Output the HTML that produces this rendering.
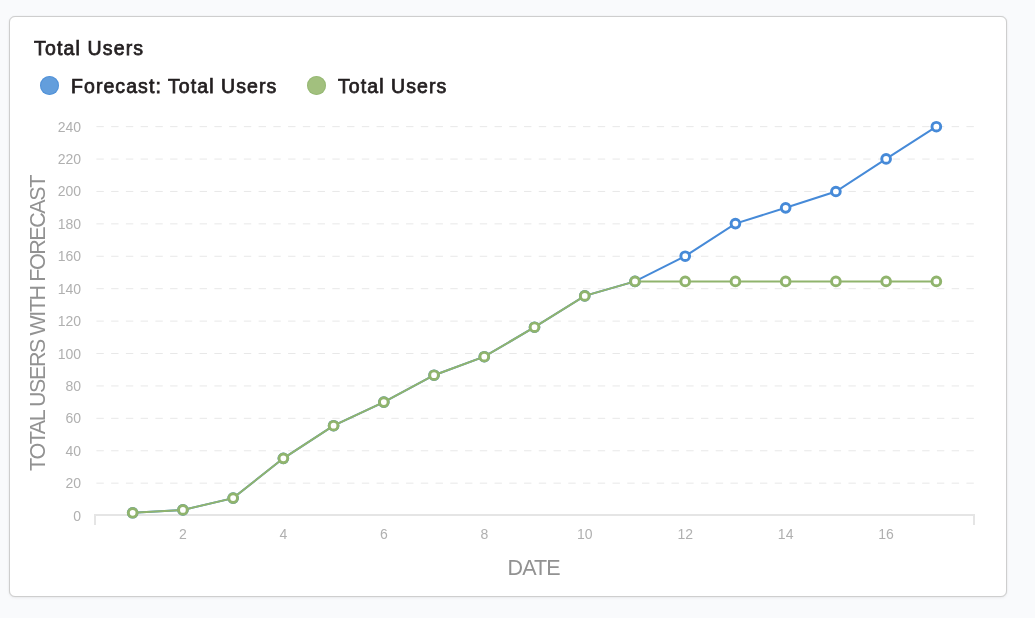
<!DOCTYPE html>
<html><head><meta charset="utf-8"><style>
html,body{margin:0;padding:0;}
body{width:1035px;height:618px;background:#f9fafc;position:relative;overflow:hidden;font-family:"Liberation Sans",sans-serif;}
.card{position:absolute;left:9px;top:16px;width:996px;height:579px;background:#fff;border:1px solid #cecece;border-radius:6px;box-shadow:0 0 1px rgba(0,0,0,0.12),0 1px 3px rgba(0,0,0,0.06);}
.title{position:absolute;left:34px;top:36.6px;font-size:19.5px;color:#231f20;letter-spacing:1.15px;-webkit-text-stroke:0.75px #231f20;white-space:nowrap;}
.leg{position:absolute;top:74.6px;font-size:19.5px;color:#231f20;letter-spacing:1.07px;-webkit-text-stroke:0.75px #231f20;white-space:nowrap;}
.dot{position:absolute;width:19px;height:19px;border-radius:50%;}
.d1{box-shadow:inset 0 0 0 1px rgba(65,135,214,0.55);}
.d2{box-shadow:inset 0 0 0 1px rgba(141,178,108,0.55);}
svg{position:absolute;left:0;top:0;will-change:transform;}
.title,.leg{will-change:transform;}
</style></head><body>
<div class="card"></div>
<div class="title">Total Users</div>
<div class="dot d1" style="left:40px;top:76px;background:#639edc"></div>
<div class="leg" style="left:71px">Forecast: Total Users</div>
<div class="dot d2" style="left:307px;top:76px;background:#a2c07e"></div>
<div class="leg" style="left:338px">Total Users</div>
<svg width="1035" height="618" viewBox="0 0 1035 618">
<g stroke="#e8e8e8" stroke-width="1" stroke-dasharray="7.4 7.346"><line x1="96.4" y1="483.17" x2="974" y2="483.17"/><line x1="96.4" y1="450.76" x2="974" y2="450.76"/><line x1="96.4" y1="418.34" x2="974" y2="418.34"/><line x1="96.4" y1="385.93" x2="974" y2="385.93"/><line x1="96.4" y1="353.52" x2="974" y2="353.52"/><line x1="96.4" y1="321.11" x2="974" y2="321.11"/><line x1="96.4" y1="288.70" x2="974" y2="288.70"/><line x1="96.4" y1="256.28" x2="974" y2="256.28"/><line x1="96.4" y1="223.87" x2="974" y2="223.87"/><line x1="96.4" y1="191.46" x2="974" y2="191.46"/><line x1="96.4" y1="159.05" x2="974" y2="159.05"/><line x1="96.4" y1="126.64" x2="974" y2="126.64"/></g>
<g fill="#b0b0b0" font-size="14" text-anchor="end" font-family="Liberation Sans"><text x="81" y="520.58">0</text><text x="81" y="488.17">20</text><text x="81" y="455.76">40</text><text x="81" y="423.34">60</text><text x="81" y="390.93">80</text><text x="81" y="358.52">100</text><text x="81" y="326.11">120</text><text x="81" y="293.70">140</text><text x="81" y="261.28">160</text><text x="81" y="228.87">180</text><text x="81" y="196.46">200</text><text x="81" y="164.05">220</text><text x="81" y="131.64">240</text></g>
<g fill="#b0b0b0" font-size="14" text-anchor="middle" font-family="Liberation Sans"><text x="182.90" y="539">2</text><text x="283.36" y="539">4</text><text x="383.82" y="539">6</text><text x="484.28" y="539">8</text><text x="584.74" y="539">10</text><text x="685.20" y="539">12</text><text x="785.66" y="539">14</text><text x="886.12" y="539">16</text></g>
<path d="M95 525V515H974V525" fill="none" stroke="#e5e5e5" stroke-width="2"/>
<text x="533.7" y="575" font-size="21.5" letter-spacing="-0.9" fill="#929292" text-anchor="middle" font-family="Liberation Sans">DATE</text>
<text transform="translate(45,323.5) rotate(-90)" font-size="21.5" letter-spacing="-1.43" fill="#929292" text-anchor="middle" font-family="Liberation Sans">TOTAL USERS WITH FORECAST</text>
<polyline points="132.67,512.80 182.90,509.90 233.13,498.10 283.36,458.30 333.59,425.70 383.82,402.10 434.05,375.20 484.28,356.70 534.51,327.20 584.74,295.90 634.97,281.40 685.20,256.20 735.43,223.60 785.66,207.80 835.89,191.50 886.12,158.90 936.35,126.70" fill="none" stroke="#468ad8" stroke-width="2"/>
<g fill="#fff" stroke="#468ad8" stroke-width="2.95"><circle cx="132.67" cy="512.80" r="4.35"/><circle cx="182.90" cy="509.90" r="4.35"/><circle cx="233.13" cy="498.10" r="4.35"/><circle cx="283.36" cy="458.30" r="4.35"/><circle cx="333.59" cy="425.70" r="4.35"/><circle cx="383.82" cy="402.10" r="4.35"/><circle cx="434.05" cy="375.20" r="4.35"/><circle cx="484.28" cy="356.70" r="4.35"/><circle cx="534.51" cy="327.20" r="4.35"/><circle cx="584.74" cy="295.90" r="4.35"/><circle cx="634.97" cy="281.40" r="4.35"/><circle cx="685.20" cy="256.20" r="4.35"/><circle cx="735.43" cy="223.60" r="4.35"/><circle cx="785.66" cy="207.80" r="4.35"/><circle cx="835.89" cy="191.50" r="4.35"/><circle cx="886.12" cy="158.90" r="4.35"/><circle cx="936.35" cy="126.70" r="4.35"/></g>
<polyline points="132.67,512.80 182.90,509.90 233.13,498.10 283.36,458.30 333.59,425.70 383.82,402.10 434.05,375.20 484.28,356.70 534.51,327.20 584.74,295.90 634.97,281.40 685.20,281.40 735.43,281.40 785.66,281.40 835.89,281.40 886.12,281.40 936.35,281.40" fill="none" stroke="#90b46d" stroke-width="2"/>
<g fill="#fff" stroke="#90b46d" stroke-width="2.95"><circle cx="132.67" cy="512.80" r="4.35"/><circle cx="182.90" cy="509.90" r="4.35"/><circle cx="233.13" cy="498.10" r="4.35"/><circle cx="283.36" cy="458.30" r="4.35"/><circle cx="333.59" cy="425.70" r="4.35"/><circle cx="383.82" cy="402.10" r="4.35"/><circle cx="434.05" cy="375.20" r="4.35"/><circle cx="484.28" cy="356.70" r="4.35"/><circle cx="534.51" cy="327.20" r="4.35"/><circle cx="584.74" cy="295.90" r="4.35"/><circle cx="634.97" cy="281.40" r="4.35"/><circle cx="685.20" cy="281.40" r="4.35"/><circle cx="735.43" cy="281.40" r="4.35"/><circle cx="785.66" cy="281.40" r="4.35"/><circle cx="835.89" cy="281.40" r="4.35"/><circle cx="886.12" cy="281.40" r="4.35"/><circle cx="936.35" cy="281.40" r="4.35"/></g>
</svg>
</body></html>
